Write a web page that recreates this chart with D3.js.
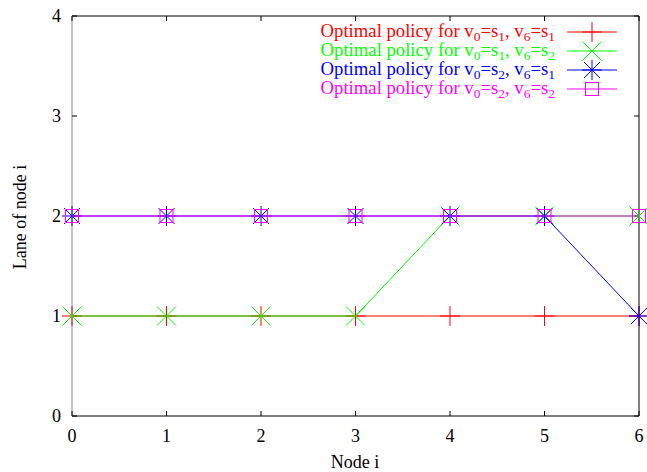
<!DOCTYPE html>
<html><head><meta charset="utf-8">
<script src="https://cdn.jsdelivr.net/npm/d3@7"></script>
<style>body{margin:0;background:#fff}svg{display:block}text{font-family:"Liberation Serif","Times New Roman",serif;}</style>
</head><body>
<script>
const nodes = [0,1,2,3,4,5,6];
const yTicks = [0,1,2,3,4];
const redVals = [1,1,1,1,1,1,1];
const greenVals = [1,1,1,1,2,2,2];
const blueVals = [2,2,2,2,2,2,1];
const magentaVals = [2,2,2,2,2,2,2];
const seriesColors = ["#ff0000","#00ff00","#0000ff","#ff00ff"];
const seriesMarkers = ["plus","cross","star","box"];
const legendSubs = [["0","1","6","1"],["0","1","6","2"],["0","2","6","1"],["0","2","6","2"]];
const allVals = [redVals, greenVals, blueVals, magentaVals];

const W=647,H=472, L=72,R=639,T=16,B=416, FS=18, LFS=18.7, SFS=13.5;
const svg = d3.select("body").append("svg").attr("width",W).attr("height",H);
const x = d3.scaleLinear().domain([0,6]).range([L,R]);
const y = d3.scaleLinear().domain([0,4]).range([B,T]);

const g = svg.append("g");
g.append("line").attr("x1",L).attr("x2",R).attr("y1",B).attr("y2",B).attr("stroke","#000");
g.append("line").attr("x1",L).attr("x2",R).attr("y1",T).attr("y2",T).attr("stroke","#000");
g.append("line").attr("x1",R).attr("x2",R).attr("y1",T).attr("y2",B).attr("stroke","#000");
g.append("line").attr("x1",L).attr("x2",L).attr("y1",T).attr("y2",B).attr("stroke","#888");
nodes.forEach(v=>{
  g.append("line").attr("x1",x(v)).attr("x2",x(v)).attr("y1",B).attr("y2",B-5).attr("stroke","#000");
  g.append("line").attr("x1",x(v)).attr("x2",x(v)).attr("y1",T).attr("y2",T+5).attr("stroke","#000");
  g.append("text").attr("x",x(v)).attr("y",442).attr("text-anchor","middle").attr("font-size",FS).text(v);
});
yTicks.forEach(v=>{
  g.append("line").attr("x1",L).attr("x2",L+5).attr("y1",y(v)).attr("y2",y(v)).attr("stroke","#000");
  g.append("line").attr("x1",R).attr("x2",R-5).attr("y1",y(v)).attr("y2",y(v)).attr("stroke","#000");
  g.append("text").attr("x",61).attr("y",y(v)+6).attr("text-anchor","end").attr("font-size",FS).text(v);
});
svg.append("text").attr("x",355).attr("y",468).attr("text-anchor","middle").attr("font-size",FS).text("Node i");
svg.append("text").attr("transform","translate(26,217) rotate(-90)").attr("text-anchor","middle").attr("font-size",FS).text("Lane of node i");

function marker(sel, type, cx, cy, color){
  const s=10, b=6.5;
  const p = sel.append("g").attr("stroke",color).attr("fill","none").attr("stroke-width",1);
  if(type==="plus"||type==="star"){
    p.append("line").attr("x1",cx-s).attr("x2",cx+s).attr("y1",cy).attr("y2",cy);
    p.append("line").attr("x1",cx).attr("x2",cx).attr("y1",cy-s).attr("y2",cy+s);
  }
  if(type==="cross"||type==="star"){
    const d= type==="cross" ? 9.5 : 8;
    p.append("line").attr("x1",cx-d).attr("x2",cx+d).attr("y1",cy-d).attr("y2",cy+d);
    p.append("line").attr("x1",cx-d).attr("x2",cx+d).attr("y1",cy+d).attr("y2",cy-d);
  }
  if(type==="box"){
    p.append("rect").attr("x",cx-b).attr("y",cy-b).attr("width",2*b).attr("height",2*b);
  }
}

const line = d3.line().x((d,i)=>x(nodes[i])).y(d=>y(d));
allVals.forEach((vals,k)=>{
  const sg = svg.append("g");
  sg.append("path").attr("d",line(vals)).attr("fill","none").attr("stroke",seriesColors[k]).attr("stroke-width",1);
  vals.forEach((v,i)=>marker(sg, seriesMarkers[k], x(nodes[i]), y(v), seriesColors[k]));
  const ly = 32 + k*19;
  const t = svg.append("text").attr("x",555).attr("y",ly+5).attr("text-anchor","end").attr("font-size",LFS).attr("fill",seriesColors[k]);
  const s = legendSubs[k];
  t.append("tspan").text("Optimal policy for v");
  t.append("tspan").attr("font-size",SFS).attr("dy",4).text(s[0]);
  t.append("tspan").attr("dy",-4).text("=s");
  t.append("tspan").attr("font-size",SFS).attr("dy",4).text(s[1]);
  t.append("tspan").attr("dy",-4).text(", v");
  t.append("tspan").attr("font-size",SFS).attr("dy",4).text(s[2]);
  t.append("tspan").attr("dy",-4).text("=s");
  t.append("tspan").attr("font-size",SFS).attr("dy",4).text(s[3]);
  svg.append("line").attr("x1",567).attr("x2",617).attr("y1",ly).attr("y2",ly).attr("stroke",seriesColors[k]);
  marker(svg, seriesMarkers[k], 592, ly, seriesColors[k]);
});
</script>
</body></html>
